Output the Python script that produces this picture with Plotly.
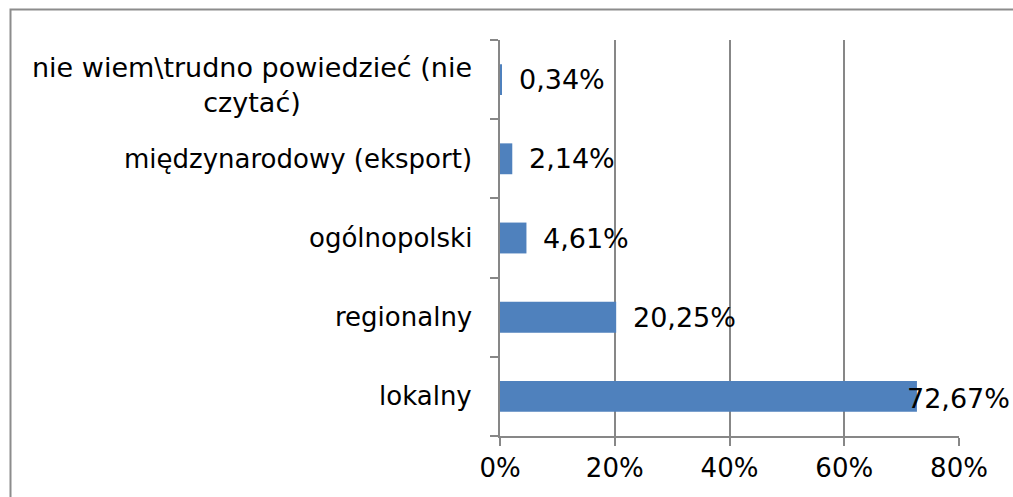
import plotly.graph_objects as go

categories = ["lokalny", "regionalny", "ogólnopolski", "międzynarodowy (eksport)",
              "nie wiem\\trudno powiedzieć (nie<br>czytać)"]
values = [72.67, 20.25, 4.61, 2.14, 0.34]
value_labels = ["72,67%", "20,25%", "4,61%", "2,14%", "0,34%"]
x_ticks = [0, 20, 40, 60, 80]
x_tick_labels = ["0%", "20%", "40%", "60%", "80%"]

FONT = "DejaVu Sans, Verdana, sans-serif"
GRID = "#878787"

fig = go.Figure()
fig.add_trace(go.Bar(
    y=list(range(len(categories))), x=values, orientation="h",
    marker=dict(color="#4F81BD", line=dict(width=0)),
    width=0.39, hoverinfo="skip",
))

annotations = []
for i, (cat, v, lab) in enumerate(zip(categories, values, value_labels)):
    multi = "<br>" in cat
    annotations.append(dict(
        xref="paper", x=0, yref="y", y=i, text=cat, showarrow=False,
        xanchor="right", align="center", xshift=-26, yshift=-5 if multi else 0,
        font=dict(family=FONT, size=27 if multi else 26, color="#000000"),
    ))
    if v > 60:
        annotations.append(dict(
            xref="paper", x=1, yref="y", y=i, text=lab, showarrow=False,
            xanchor="right", xshift=53, yshift=-2,
            font=dict(family=FONT, size=27, color="#000000"),
        ))
    else:
        annotations.append(dict(
            xref="x", x=v, yref="y", y=i, text=lab, showarrow=False,
            xanchor="left", xshift=15,
            font=dict(family=FONT, size=27, color="#000000"),
        ))

fig.update_layout(
    width=1013, height=497,
    margin=dict(l=500, r=54, t=40, b=61),
    paper_bgcolor="white", plot_bgcolor="white",
    showlegend=False,
    annotations=annotations,
    shapes=[dict(type="rect", xref="paper", yref="paper",
                 x0=-489.5/459, x1=1.2, y0=-0.5, y1=1 + 30.5/396,
                 line=dict(color="#8c8c8c", width=2), layer="below")],
    xaxis=dict(
        range=[0, 80], tickvals=x_ticks, ticktext=x_tick_labels,
        showgrid=True, gridcolor=GRID, gridwidth=1.5,
        showline=True, linecolor=GRID, linewidth=1.5,
        ticks="outside", ticklen=8, tickcolor=GRID, tickwidth=1.5,
        tickfont=dict(family=FONT, size=26, color="#000000"),
        zeroline=False, fixedrange=True,
    ),
    yaxis=dict(
        range=[-0.5, len(categories) - 0.5],
        tickvals=[i - 0.5 for i in range(len(categories) + 1)],
        showticklabels=False, showgrid=False,
        showline=True, linecolor=GRID, linewidth=1.5,
        ticks="outside", ticklen=8, tickcolor=GRID, tickwidth=1.5,
        zeroline=False, fixedrange=True,
    ),
)

fig.write_html("out.html", config={"displayModeBar": False},
               post_script="document.body.style.margin='0';document.body.style.padding='0';")
